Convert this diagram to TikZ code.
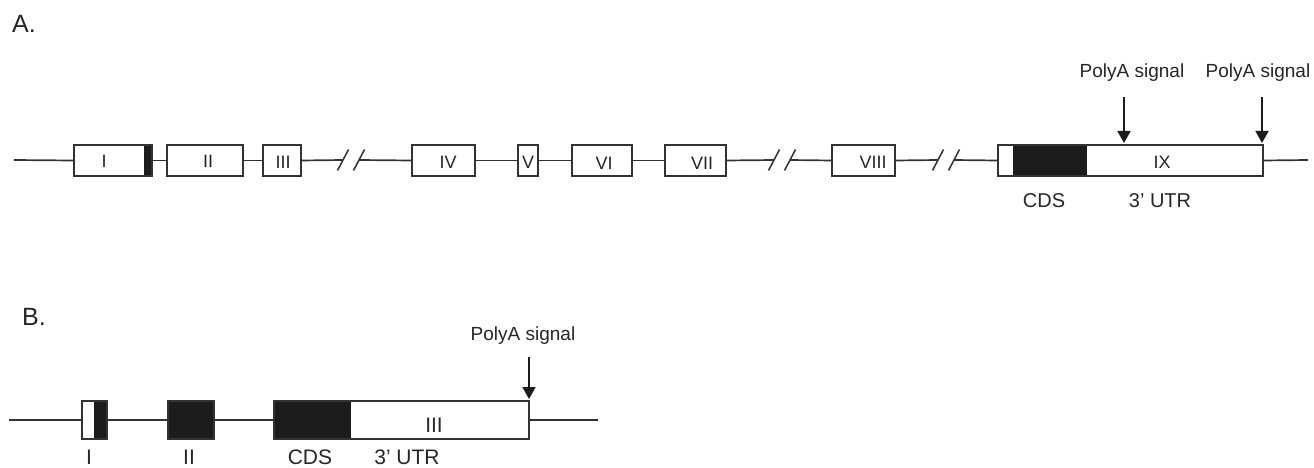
\documentclass[tikz,border=0pt]{standalone}
\usepackage{fontspec}
\setmainfont{Liberation Sans}
\usetikzlibrary{arrows.meta}
\definecolor{ln}{HTML}{333333}
\definecolor{blk}{HTML}{1C1C1C}
\tikzset{
  exon/.style={draw=ln, line width=1.7pt, fill=white, inner sep=0pt, outer sep=0pt},
  exonA/.style={exon, minimum height=31},
  exonB/.style={exon, minimum height=38},
  intron/.style={draw=ln, line width=1.7pt},
  slash/.style={draw=ln, line width=1.5pt},
  blackpart/.style={fill=blk},
  txt/.style={inner sep=0pt, anchor=base, text=black!85},
  numA/.style={txt, font=\fontsize{18}{18}\selectfont},
  labA/.style={txt, font=\fontsize{20}{20}\selectfont},
  labB/.style={txt, font=\fontsize{21}{21}\selectfont},
  polya/.style={txt, font=\fontsize{19}{19}\selectfont},
  panel/.style={inner sep=0pt, anchor=base west, font=\fontsize{25}{25}\selectfont, text=black!85},
  parrow/.style={draw=blk, line width=1.6pt, -{Triangle[width=13pt,length=12pt]}}
}
\begin{document}
\begin{tikzpicture}[x=1pt,y=-1pt]
\useasboundingbox (0,0) rectangle (1314,468);

% ---------- Panel A ----------
\node[panel] (A) at (12,33) {A.};

\coordinate (sA) at (14,160);
\coordinate (eA) at (1308,160);
\node[exonA, minimum width=78] (e1) at (113,160.5) {};
\node[exonA, minimum width=76] (e2) at (205,160.5) {};
\node[exonA, minimum width=38] (e3) at (282,160.5) {};
\node[exonA, minimum width=63] (e4) at (443.5,160.5) {};
\node[exonA, minimum width=20] (e5) at (528,160.5) {};
\node[exonA, minimum width=60] (e6) at (602,160.5) {};
\node[exonA, minimum width=61] (e7) at (695.5,160.5) {};
\node[exonA, minimum width=63] (e8) at (863.5,160.5) {};
\node[exonA, minimum width=265] (e9) at (1130.5,160.5) {};

% black coding parts
\fill[blackpart] (144,145) rectangle (152,176);
\draw[draw=ln, line width=1.7pt] (e1.north west) rectangle (e1.south east);
\fill[blackpart] (1013,145) rectangle (1087,176);
\draw[draw=ln, line width=1.7pt] (e9.north west) rectangle (e9.south east);

% break points
\coordinate (b1l) at (343,160); \coordinate (b1r) at (359,160);
\coordinate (b2l) at (774,160); \coordinate (b2r) at (790,160);
\coordinate (b3l) at (938,160); \coordinate (b3r) at (954,160);

\draw[intron] (sA) -- (e1.west);
\draw[intron] (e1.east) -- (e2.west);
\draw[intron] (e2.east) -- (e3.west);
\draw[intron] (e3.east) -- (b1l);
\draw[intron] (b1r) -- (e4.west);
\draw[intron] (e4.east) -- (e5.west);
\draw[intron] (e5.east) -- (e6.west);
\draw[intron] (e6.east) -- (e7.west);
\draw[intron] (e7.east) -- (b2l);
\draw[intron] (b2r) -- (e8.west);
\draw[intron] (e8.east) -- (b3l);
\draw[intron] (b3r) -- (e9.west);
\draw[intron] (e9.east) -- (eA);

\foreach \p in {b1l,b1r,b2l,b2r,b3l,b3r}{
  \draw[slash] ([shift={(-5.5,10.5)}]\p) -- ([shift={(5.5,-10.5)}]\p);
}

% numerals
\node[numA] (nI)    at (104,167) {I};
\node[numA] (nII)   at (208,167) {II};
\node[numA] (nIII)  at (283,168) {III};
\node[numA] (nIV)   at (448,168) {IV};
\node[numA] (nV)    at (528,168) {V};
\node[numA] (nVI)   at (604,169) {VI};
\node[numA] (nVII)  at (702,169) {VII};
\node[numA] (nVIII) at (873,168) {VIII};
\node[numA] (nIX)   at (1162,168) {IX};

\node[labA] (cdsA) at (1044,207) {CDS};
\node[labA] (utrA) at (1160,207) {3' UTR};

% polyA signals
\node[polya] (pa1) at (1132,78) {PolyA signal};
\node[polya] (pa2) at (1258,78) {PolyA signal};
\coordinate (a1s) at (1124,97);  \coordinate (a1e) at (1124,143);
\coordinate (a2s) at (1262,97);  \coordinate (a2e) at (1262,143);
\draw[parrow] (a1s) -- (a1e);
\draw[parrow] (a2s) -- (a2e);

% ---------- Panel B ----------
\node[panel] (B) at (22,325) {B.};

\coordinate (sB) at (9,420);
\coordinate (eB) at (598,420);
\node[exonB, minimum width=25]  (f1) at (94.5,420) {};
\node[exonB, minimum width=46, fill=blk]  (f2) at (191,420) {};
\node[exonB, minimum width=255] (f3) at (401.5,420) {};

\draw[intron] (sB) -- (f1.west);
\draw[intron] (f1.east) -- (f2.west);
\draw[intron] (f2.east) -- (f3.west);
\draw[intron] (f3.east) -- (eB);

\fill[blackpart] (94,401) rectangle (107,439);
\draw[draw=ln, line width=1.7pt] (f1.north west) rectangle (f1.south east);
\fill[blackpart] (274,401) rectangle (351,439);
\draw[draw=ln, line width=1.7pt] (f3.north west) rectangle (f3.south east);

\node[labB] (mIII) at (434,432) {III};
\node[labB] (mI)   at (89,464) {I};
\node[labB] (mII)  at (189,464) {II};
\node[labB] (cdsB) at (310,464) {CDS};
\node[labB] (utrB) at (407,464) {3' UTR};

\node[polya] (pb) at (523,340) {PolyA signal};
\coordinate (b0s) at (529,357); \coordinate (b0e) at (529,399);
\draw[parrow] (b0s) -- (b0e);
\end{tikzpicture}
\end{document}
